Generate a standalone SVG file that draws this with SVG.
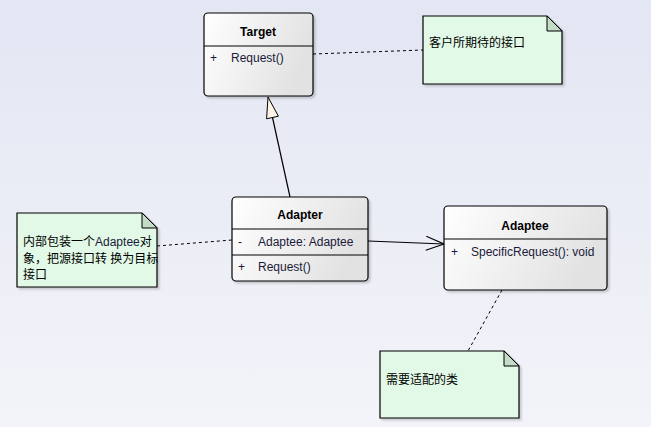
<svg xmlns="http://www.w3.org/2000/svg" width="651" height="427" viewBox="0 0 651 427">
<defs>
<linearGradient id="bg" x1="0" y1="0" x2="0" y2="1"><stop offset="0" stop-color="#e3e6f3"/><stop offset="1" stop-color="#f3f4f9"/></linearGradient>
<linearGradient id="cls" x1="0" y1="0" x2="1" y2="0.3"><stop offset="0" stop-color="#ffffff"/><stop offset="1" stop-color="#e2e2e2"/></linearGradient>
<filter id="sh" x="-10%" y="-10%" width="130%" height="130%"><feDropShadow dx="2" dy="2" stdDeviation="1" flood-color="#000" flood-opacity="0.18"/></filter>
<marker id="open" viewBox="0 0 20 16" refX="19" refY="8" markerWidth="20" markerHeight="16" markerUnits="userSpaceOnUse" orient="auto"><path d="M1,1 L19,8 L1,15" fill="none" stroke="#000" stroke-width="1.2"/></marker>
</defs>
<style>
text{font-family:"Liberation Sans",Arial,"Noto Sans CJK SC",sans-serif;font-size:12px;fill:#1a1a3a}
.t{font-weight:bold;fill:#000;text-anchor:middle}
.box{fill:url(#cls);stroke:#000;stroke-width:1.2}
.div{stroke:#000;stroke-width:1}
.note{fill:#e1f9e6;stroke:#000;stroke-width:1.2}
.fold{fill:#c3dbc7;stroke:#000;stroke-width:1}
.cn{fill:#000}
.dash{stroke:#000;stroke-width:1;stroke-dasharray:3,3;fill:none}
</style>
<rect width="651" height="427" fill="url(#bg)"/>
<g id="connectors">
<line class="dash" x1="313" y1="54" x2="423" y2="50"/>
<line class="dash" x1="157" y1="246" x2="232" y2="240"/>
<line class="dash" x1="502" y1="290" x2="468" y2="351"/>
<line x1="290" y1="197" x2="272.5" y2="117.5" stroke="#000" stroke-width="1.2"/>
<polygon points="268,97 278.4,116.2 266.6,118.8" fill="#fdf5e6" stroke="#000" stroke-width="1"/>
<line x1="368" y1="241" x2="444" y2="244" stroke="#000" stroke-width="1.2" marker-end="url(#open)"/>
</g>
<g id="target">
<rect class="box" x="204" y="13" width="109" height="83" rx="4" filter="url(#sh)"/>
<line class="div" x1="204" y1="46" x2="313" y2="46"/>
<text class="t" x="258" y="36">Target</text>
<text x="210" y="62">+</text>
<text x="231" y="62">Request()</text>
</g>
<g id="note-target">
<path class="note" d="M423,16 H547 L562,31 V84 H423 Z" filter="url(#sh)"/>
<path class="fold" d="M547,16 V31 H562 Z"/>
<text class="cn" x="429" y="47">客户所期待的接口</text>
</g>
<g id="adapter">
<rect class="box" x="232" y="197" width="136" height="84" rx="4" filter="url(#sh)"/>
<line class="div" x1="232" y1="229" x2="368" y2="229"/>
<line class="div" x1="232" y1="255" x2="368" y2="255"/>
<text class="t" x="300" y="219">Adapter</text>
<text x="238" y="246">-</text>
<text x="258" y="246">Adaptee: Adaptee</text>
<text x="238" y="271">+</text>
<text x="258" y="271">Request()</text>
</g>
<g id="adaptee">
<rect class="box" x="444" y="206" width="163" height="84" rx="4" filter="url(#sh)"/>
<line class="div" x1="444" y1="239" x2="607" y2="239"/>
<text class="t" x="525" y="230">Adaptee</text>
<text x="451" y="256">+</text>
<text x="471" y="256">SpecificRequest(): void</text>
</g>
<g id="note-adapter">
<path class="note" d="M17,213 H142 L157,228 V287 H17 Z" filter="url(#sh)"/>
<path class="fold" d="M142,213 V228 H157 Z"/>
<text class="cn" x="23" y="246">内部包装一个<tspan fill="#1a1a3a">Adaptee</tspan>对</text>
<text class="cn" x="23" y="263">象，把源接口转 换为目标</text>
<text class="cn" x="23" y="279">接口</text>
</g>
<g id="note-adaptee">
<path class="note" d="M380,351 H504 L519,366 V418 H380 Z" filter="url(#sh)"/>
<path class="fold" d="M504,351 V366 H519 Z"/>
<text class="cn" x="386" y="384">需要适配的类</text>
</g>
</svg>
